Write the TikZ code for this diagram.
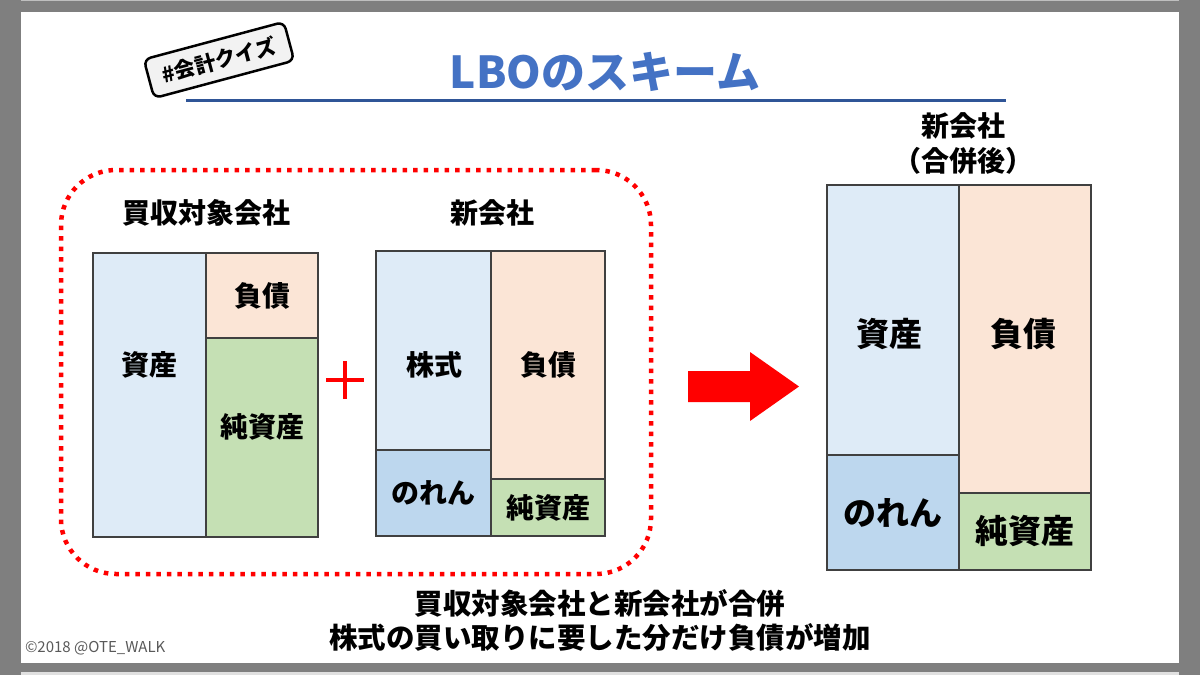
\documentclass[tikz,border=0pt]{standalone}
\usepackage{fontspec}
\setmainfont{Noto Sans CJK JP}
\usetikzlibrary{positioning, calc}
\definecolor{assetblue}{HTML}{DEEBF7}
\definecolor{goodwillblue}{HTML}{BDD7EE}
\definecolor{debtpeach}{HTML}{FBE5D6}
\definecolor{equitygreen}{HTML}{C5E0B4}
\definecolor{titleblue}{HTML}{4472C4}
\definecolor{ruleblue}{HTML}{2F5597}
\definecolor{cellline}{HTML}{404040}
\definecolor{framegray}{HTML}{7F7F7F}
\definecolor{taggray}{HTML}{F2F2F2}

\begin{document}
\begin{tikzpicture}[
    x=1pt, y=-1pt,
    every node/.style={font=\bfseries\fontsize{28}{34}\selectfont, inner sep=0pt, outer sep=0pt},
    cell/.style={draw=cellline, line width=1.3pt},
    bigtxt/.style={font=\bfseries\fontsize{33}{38}\selectfont},
  ]
  \useasboundingbox (0,0) rectangle (1200,675);
  % slide frame
  \fill[framegray] (0,0) rectangle (1200,675);
  \fill[white] (21,12) rectangle (1179,663);
  \fill[black!25] (21,0) rectangle (1179,1);
  \fill[black!12] (21,672) rectangle (1179,675);

  % Title
  \node[font=\bfseries\fontsize{44}{50}\selectfont, text=titleblue] (title) at (605,72) {LBOのスキーム};
  \draw[ruleblue, line width=3pt] (186,100) -- (1006,100);
  \node[draw, line width=2.5pt, rounded corners=7pt, fill=taggray, minimum width=145, minimum height=40,
        rotate=15, font=\bfseries\fontsize{21}{24}\selectfont] (quizTag) at (219,60) {\#会計クイズ};

  % Before the merger
  \node[draw=red, line width=4.5pt, dash pattern=on 4.5pt off 6pt, rounded corners=55pt,
        minimum width=590, minimum height=404] (mergeGroup) at (356,372) {};
  \node (tgtTitle) at (206,213) {買収対象会社};
  \node (newTitle) at (492,213) {新会社};

  \node[cell, fill=assetblue, minimum width=113, minimum height=284] (tgtAsset) at (149.5,395) {};
  \node[cell, fill=debtpeach, minimum width=112, minimum height=85] (tgtDebt) at (262,295.5) {負債};
  \node[cell, fill=equitygreen, minimum width=112, minimum height=199] (tgtEquity) at (262,437.5) {};
  \node (tgtAssetTxt) at (149,365) {資産};
  \node (tgtEquityTxt) at (262,427) {純資産};

  \node (plusSign) at (345,380) {};
  \draw[red, line width=4pt] ($(plusSign)+(-19,0)$) -- ($(plusSign)+(19,0)$);
  \draw[red, line width=4pt] ($(plusSign)+(0,-19)$) -- ($(plusSign)+(0,19)$);

  \node[cell, fill=assetblue, minimum width=115, minimum height=199] (newStock) at (433.5,350.5) {};
  \node[cell, fill=goodwillblue, minimum width=115, minimum height=86] (newGoodwill) at (433.5,493) {のれん};
  \node[cell, fill=debtpeach, minimum width=114, minimum height=228] (newDebt) at (548,365) {負債};
  \node[cell, fill=equitygreen, minimum width=114, minimum height=57] (newEquity) at (548,507.5) {純資産};
  \node (newStockTxt) at (434,365) {株式};

  % Merge arrow
  \fill[red] (688,371) -- (750,371) -- (750,352) -- (799,386.5) -- (750,421) -- (750,402) -- (688,402) -- cycle;

  % After the merger
  \node[align=center, font=\bfseries\fontsize{28}{35}\selectfont] (mrgTitle) at (963,143) {新会社\\（合併後）};
  \node[cell, fill=assetblue, minimum width=132, minimum height=270] (mrgAsset) at (893,320) {};
  \node[cell, fill=goodwillblue, minimum width=132, minimum height=115, bigtxt] (mrgGoodwill) at (893,512.5) {のれん};
  \node[cell, fill=debtpeach, minimum width=132, minimum height=308] (mrgDebt) at (1025,339) {};
  \node[cell, fill=equitygreen, minimum width=132, minimum height=77, bigtxt] (mrgEquity) at (1025,531.5) {純資産};
  \node[bigtxt] (mrgAssetTxt) at (889,334) {資産};
  \node[bigtxt] (mrgDebtTxt) at (1023,334) {負債};

  % Caption
  \node[align=center, font=\bfseries\fontsize{28.5}{34}\selectfont] (caption) at (600,620) {買収対象会社と新会社が合併\\株式の買い取りに要した分だけ負債が増加};
  \node[anchor=west, font=\fontsize{15}{18}\selectfont, text=black!65] (credit) at (25,648) {©2018 @OTE\_WALK};
\end{tikzpicture}
\end{document}
